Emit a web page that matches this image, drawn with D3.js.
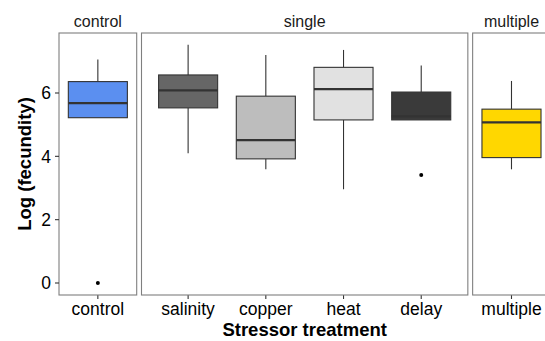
<!DOCTYPE html>
<html lang="en">
<head>
<meta charset="UTF-8">
<title>Log fecundity by stressor treatment</title>
<script src="https://d3js.org/d3.v7.min.js"></script>
<style>
    body { margin: 0; background: #fff; }
    svg { font-family: "Liberation Sans", Arial, Helvetica, sans-serif; }
    .strip { font-size: 16px; fill: #1a1a1a; }
    .tick-label { font-size: 17.5px; fill: #000; }
    .axis-title { font-size: 18.5px; font-weight: bold; fill: #000; }
</style>
</head>
<body>
<svg width="545" height="341"></svg>
<script>
    // facets and their treatments
    const facets = ["control", "single", "multiple"];
    const facetTreatments = [["control"], ["salinity", "copper", "heat", "delay"], ["multiple"]];

    // box stats per treatment
    const treatments = ["control", "salinity", "copper", "heat", "delay", "multiple"];
    const whiskerLow = [5.22, 4.10, 3.59, 2.96, 5.15, 3.59];
    const q1 = [5.22, 5.53, 3.92, 5.15, 5.15, 3.96];
    const median = [5.68, 6.08, 4.51, 6.12, 5.26, 5.07];
    const q3 = [6.36, 6.57, 5.90, 6.81, 6.03, 5.49];
    const whiskerHigh = [7.06, 7.52, 7.20, 7.36, 6.87, 6.38];
    const fills = ["#5b8ff0", "#666666", "#bdbdbd", "#e1e1e1", "#3a3a3a", "#ffd700"];
    const outliers = [{t: "control", v: 0}, {t: "delay", v: 3.41}];

    const yTicks = [0, 2, 4, 6];

    const svg = d3.select("svg");
    const panelTop = 33, panelBottom = 295, left = 59, gap = 4.8, unit = 77.7;

    const y = d3.scaleLinear().domain([0, 6]).range([283, 93]);

    // one-level panels are one step wide, the others (n - 1 + 1.2) steps
    let cursor = left;
    const panels = facets.map((f, i) => {
        const n = facetTreatments[i].length;
        const w = n === 1 ? unit : (n + 0.2) * unit;
        const p = {name: f, x0: cursor, x1: cursor + w, cats: facetTreatments[i]};
        p.x = d3.scalePoint().domain(p.cats).range([p.x0, p.x1]).padding(n === 1 ? 0.5 : 0.6);
        cursor += w + gap;
        return p;
    });

    const boxW = unit * 0.76;

    panels.forEach(p => {
        const g = svg.append("g");

        // strip label
        g.append("text").attr("class", "strip")
            .attr("x", (p.x0 + p.x1) / 2).attr("y", 27)
            .attr("text-anchor", "middle").text(p.name);

        p.cats.forEach(c => {
            const i = treatments.indexOf(c);
            const cx = p.x(c);
            // whiskers
            g.append("line").attr("x1", cx).attr("x2", cx)
                .attr("y1", y(whiskerHigh[i])).attr("y2", y(q3[i]))
                .attr("stroke", "#333").attr("stroke-width", 1.1);
            g.append("line").attr("x1", cx).attr("x2", cx)
                .attr("y1", y(q1[i])).attr("y2", y(whiskerLow[i]))
                .attr("stroke", "#333").attr("stroke-width", 1.1);
            // box
            g.append("rect").attr("x", cx - boxW / 2).attr("width", boxW)
                .attr("y", y(q3[i])).attr("height", y(q1[i]) - y(q3[i]))
                .attr("fill", fills[i]).attr("stroke", "#333").attr("stroke-width", 1.1);
            // median
            g.append("line").attr("x1", cx - boxW / 2).attr("x2", cx + boxW / 2)
                .attr("y1", y(median[i])).attr("y2", y(median[i]))
                .attr("stroke", "#333").attr("stroke-width", 2.2);

            // x tick + label
            g.append("line").attr("x1", cx).attr("x2", cx)
                .attr("y1", panelBottom).attr("y2", panelBottom + 4)
                .attr("stroke", "#333").attr("stroke-width", 1.1);
            g.append("text").attr("class", "tick-label")
                .attr("x", cx).attr("y", 315).attr("text-anchor", "middle").text(c);
        });

        outliers.filter(o => p.cats.includes(o.t)).forEach(o => {
            g.append("circle").attr("cx", p.x(o.t)).attr("cy", y(o.v))
                .attr("r", 2).attr("fill", "#000");
        });

        // panel border
        g.append("rect").attr("x", p.x0).attr("y", panelTop)
            .attr("width", p.x1 - p.x0).attr("height", panelBottom - panelTop)
            .attr("fill", "none").attr("stroke", "#7f7f7f").attr("stroke-width", 1.1);
    });

    // y axis
    const ya = svg.append("g");
    yTicks.forEach(t => {
        ya.append("line").attr("x1", left - 4).attr("x2", left)
            .attr("y1", y(t)).attr("y2", y(t))
            .attr("stroke", "#333").attr("stroke-width", 1.1);
        ya.append("text").attr("class", "tick-label")
            .attr("x", left - 8).attr("y", y(t)).attr("dy", "0.36em")
            .attr("text-anchor", "end").text(t);
    });

    svg.append("text").attr("class", "axis-title")
        .attr("transform", `translate(31,164) rotate(-90)`)
        .attr("text-anchor", "middle").text("Log (fecundity)");

    const plotMid = (panels[0].x0 + panels[2].x1) / 2;
    svg.append("text").attr("class", "axis-title")
        .attr("x", plotMid).attr("y", 336)
        .attr("text-anchor", "middle").text("Stressor treatment");
</script>
</body>
</html>
